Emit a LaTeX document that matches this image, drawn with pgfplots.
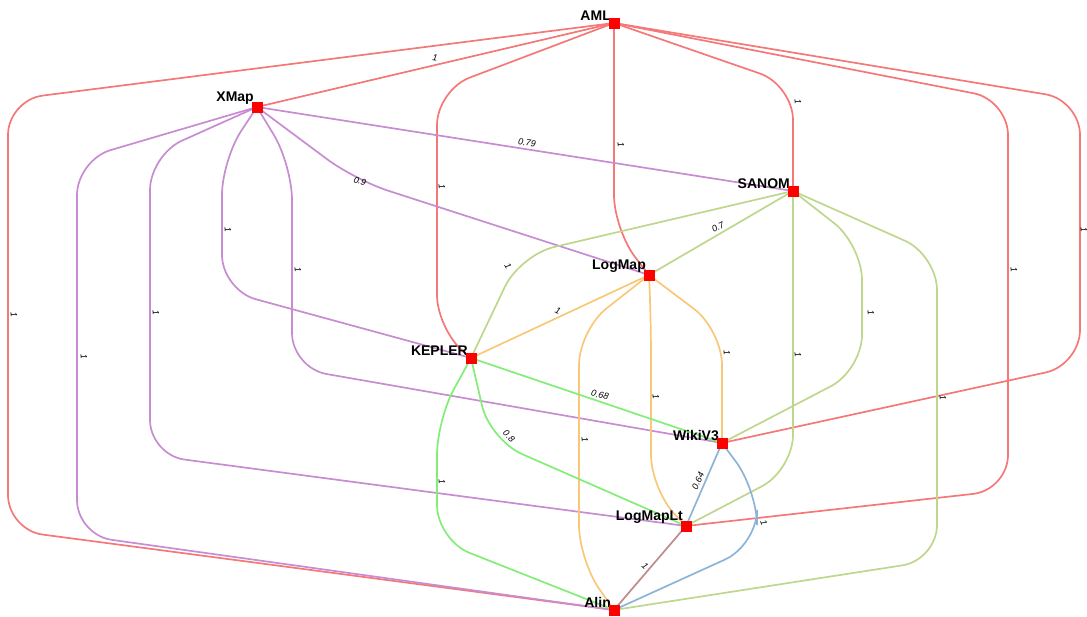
\documentclass[border=0pt]{standalone}
\usepackage{pgfplots}
\pgfplotsset{compat=1.18}
\usepackage{fontspec}
\setmainfont{Liberation Sans}
\definecolor{ecr}{RGB}{245,120,120}
\definecolor{ecp}{RGB}{200,140,210}
\definecolor{ecg}{RGB}{190,215,140}
\definecolor{eco}{RGB}{248,200,120}
\definecolor{ecb}{RGB}{130,238,120}
\definecolor{ecl}{RGB}{140,180,215}
\definecolor{ecm}{RGB}{190,140,140}
\begin{document}
\begin{tikzpicture}
\begin{axis}[at={(0,0)},anchor=south west,scale only axis,width=1087pt,height=617pt,xmin=0,xmax=1087,ymin=0,ymax=617,
 y dir=reverse,hide axis,clip=false]
\tikzset{ed/.style={line width=1.7pt,mark=none,rounded corners=35pt}}
% red AML
\addplot[ed,ecr] coordinates {(614,23)(257,107)};
\addplot[ed,ecr] coordinates {(614,23)(8,100)(8,530)(614,610)};
\addplot[ed,ecr] coordinates {(614,23)(437,90)(437,330)(471,358)};
\addplot[ed,ecr] coordinates {(614,23)(614,230)(649,275)};
\addplot[ed,ecr] coordinates {(614,23)(793,85)(793,191)};
\addplot[ed,ecr] coordinates {(614,23)(1008,100)(1008,490)(686,526)};
\addplot[ed,ecr] coordinates {(614,23)(1080,100)(1080,365)(722,443)};
% purple XMap
\addplot[ed,ecp] coordinates {(257,107)(793,191)};
\addplot[ed,ecp] coordinates {(257,107)(355,180)(649,275)};
\addplot[ed,ecp] coordinates {(257,107)(222,160)(222,290)(471,358)};
\addplot[ed,ecp] coordinates {(257,107)(292,165)(292,368)(722,443)};
\addplot[ed,ecp] coordinates {(257,107)(150,155)(150,455)(686,526)};
\addplot[ed,ecp] coordinates {(257,107)(77,160)(77,535)(614,610)};
% green SANOM
\addplot[ed,ecg] coordinates {(793,191)(649,275)};
\addplot[ed,ecg] coordinates {(793,191)(520,255)(471,358)};
\addplot[ed,ecg] coordinates {(793,191)(862,245)(862,370)(722,443)};
\addplot[ed,ecg] coordinates {(793,191)(793,470)(686,526)};
\addplot[ed,ecg] coordinates {(793,191)(937,255)(937,560)(614,610)};
% orange LogMap
\addplot[ed,eco] coordinates {(649,275)(471,358)};
\addplot[ed,eco] coordinates {(649,275)(722,330)(722,443)};
\addplot[ed,eco] coordinates {(649,275)(651,320)(651,490)(686,526)};
\addplot[ed,eco] coordinates {(649,275)(579,330)(579,560)(614,610)};
% bright green KEPLER
\addplot[ed,ecb] coordinates {(471,358)(722,443)};
\addplot[ed,ecb] coordinates {(471,358)(490,440)(686,526)};
\addplot[ed,ecb] coordinates {(471,358)(437,420)(437,540)(614,610)};
% blue WikiV3
\addplot[ed,ecl] coordinates {(722,443)(686,526)};
\addplot[ed,ecl] coordinates {(722,443)(757,490)(757,545)(614,610)};
% LogMapLt
\addplot[ed,ecm] coordinates {(686,526)(614,610)};
% nodes
\addplot[only marks,mark=square*,mark size=5pt,color=red,mark options={fill=red}] coordinates {(614,23)(257,107)(793,191)(649,275)(471,358)(722,443)(686,526)(614,610)};
\tikzset{nl/.style={font=\bfseries\fontsize{14}{14}\selectfont,anchor=south east,inner sep=1pt},
 el/.style={font=\itshape\fontsize{9}{9}\selectfont,inner sep=0pt}}
\node[nl] at (axis cs:612,22) {AML};
\node[nl] at (axis cs:255,106) {XMap};
\node[nl] at (axis cs:791,190) {SANOM};
\node[nl] at (axis cs:647,274) {LogMap};
\node[nl] at (axis cs:469,357) {KEPLER};
\node[nl] at (axis cs:720,442) {WikiV3};
\node[nl] at (axis cs:684,525) {LogMapLt};
\node[nl] at (axis cs:612,609) {Alin};
\node[el,rotate=-8] at (axis cs:435,58) {1};
\node[el,rotate=-85] at (axis cs:14,315) {1};
\node[el,rotate=-85] at (axis cs:442,187) {1};
\node[el,rotate=-85] at (axis cs:621,145) {1};
\node[el,rotate=-85] at (axis cs:798,102) {1};
\node[el,rotate=-85] at (axis cs:1014,270) {1};
\node[el,rotate=-85] at (axis cs:1084,230) {1};
\node[el,rotate=-8] at (axis cs:527,143) {0.79};
\node[el,rotate=-18] at (axis cs:360,181) {0.9};
\node[el,rotate=-85] at (axis cs:228,230) {1};
\node[el,rotate=-85] at (axis cs:298,270) {1};
\node[el,rotate=-85] at (axis cs:156,313) {1};
\node[el,rotate=-85] at (axis cs:84,357) {1};
\node[el,rotate=28] at (axis cs:718,227) {0.7};
\node[el,rotate=-60] at (axis cs:508,266) {1};
\node[el,rotate=-85] at (axis cs:871,313) {1};
\node[el,rotate=-85] at (axis cs:798,355) {1};
\node[el,rotate=-85] at (axis cs:943,398) {1};
\node[el,rotate=-25] at (axis cs:558,311) {1};
\node[el,rotate=-85] at (axis cs:727,353) {1};
\node[el,rotate=-85] at (axis cs:656,397) {1};
\node[el,rotate=-85] at (axis cs:585,440) {1};
\node[el,rotate=-15] at (axis cs:600,395) {0.68};
\node[el,rotate=-45] at (axis cs:509,436) {0.8};
\node[el,rotate=-85] at (axis cs:442,482) {1};
\node[el,rotate=65] at (axis cs:698,481) {0.64};
\node[el,rotate=-70] at (axis cs:764,523) {1};
\node[el,rotate=-45] at (axis cs:645,566) {1};
\end{axis}
\pgfresetboundingbox
\useasboundingbox (0,0) rectangle (1087pt,617pt);
\end{tikzpicture}
\end{document}
